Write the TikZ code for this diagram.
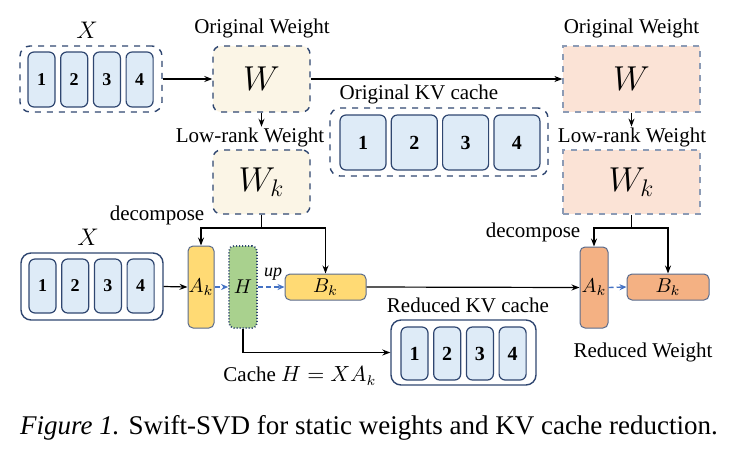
\documentclass[tikz,border=0pt]{standalone}
\usepackage{fontspec}
\setmainfont{Liberation Serif}
\usetikzlibrary{arrows.meta}
\definecolor{navy}{HTML}{2F4670}
\definecolor{cellblue}{HTML}{DEEBF7}
\definecolor{cream}{HTML}{FBF5E6}
\definecolor{peach}{HTML}{FBE3D6}
\definecolor{peachline}{HTML}{8C9BB5}
\definecolor{ayellow}{HTML}{FFDA74}
\definecolor{agreen}{HTML}{A9D18E}
\definecolor{aorange}{HTML}{F4B183}
\definecolor{upblue}{HTML}{4472C4}
\newcommand\lblfont{\fontsize{10.5}{12}\selectfont}
\tikzset{
  arr/.style={-{Stealth[length=4pt,width=3pt]}, line width=0.6pt},
  uparr/.style={-{Stealth[length=3.5pt,width=3pt]}, upblue, dashed, line width=0.7pt, dash pattern=on 2.5pt off 1.5pt},
  cell/.style={draw=navy, fill=cellblue, rounded corners=3pt, line width=0.6pt, inner sep=0pt, font=\bfseries\fontsize{9}{10}\selectfont},
  group/.style={draw=navy, rounded corners=5pt, line width=0.7pt, inner sep=0pt},
  wbox/.style={draw=navy, dashed, fill=cream, rounded corners=4pt, line width=0.7pt, inner sep=0pt, font=\LARGE},
  wbox2/.style={draw=peachline, dashed, fill=peach, line width=0.6pt, inner sep=0pt, font=\LARGE},
  fac/.style={draw=navy!80, rounded corners=2.5pt, line width=0.5pt, inner sep=0pt},
  lbl/.style={font=\lblfont, inner sep=1pt},
}
\begin{document}
\begin{tikzpicture}[x=0.5pt,y=-0.5pt]
    \useasboundingbox (0,0) rectangle (732,456);
    % input X and original weights
    \node[group, dashed, minimum width=71pt, minimum height=33pt] (xtop) at (91,79) {};
    \foreach \i in {1,...,4}
        \node[cell, minimum width=13.5pt, minimum height=27.5pt] (xt\i) at ({41.5+32.7*(\i-1)},79.5) {\i};
    \node[lbl, font=\large] (xtoplbl) at (87,30) {$X$};
    \node[wbox, minimum width=48.5pt, minimum height=33pt] (wl) at (261.5,79) {$W$};
    \node[lbl] (owl) at (262,28) {Original Weight};
    \node[wbox, minimum width=48.5pt, minimum height=32pt] (wkl) at (261.5,182) {$W_k$};
    \node[lbl] (lrl) at (250,137) {Low-rank Weight};
    \node[wbox2, minimum width=68.5pt, minimum height=33pt] (wr) at (631.5,79) {$W$};
    \node[lbl] (owr) at (631.5,28) {Original Weight};
    \node[wbox2, minimum width=68.5pt, minimum height=32pt] (wkr) at (631.5,182) {$W_k$};
    \node[lbl] (lrr) at (632,137) {Low-rank Weight};
    % original KV cache
    \node[group, dashed, minimum width=109pt, minimum height=34pt] (kvo) at (439,142) {};
    \foreach \i in {1,...,4}
        \node[cell, minimum width=23pt, minimum height=27.5pt, font=\bfseries\fontsize{10}{11}\selectfont] (kvo\i) at ({363+51.3*(\i-1)},142.5) {\i};
    \node[lbl] (kvolbl) at (419,94) {Original KV cache};
    % decomposed path
    \node[group, minimum width=71pt, minimum height=33.5pt] (xbot) at (92,286.5) {};
    \foreach \i in {1,...,4}
        \node[cell, minimum width=13.5pt, minimum height=27pt] (xb\i) at ({42.5+32.7*(\i-1)},286) {\i};
    \node[lbl, font=\large] (xbotlbl) at (88,237) {$X$};
    \node[fac, fill=ayellow, minimum width=13pt, minimum height=41pt] (akl) at (201,287) {$A_k$};
    \node[fac, fill=agreen, draw=navy, densely dotted, line width=0.9pt, minimum width=14pt, minimum height=41pt] (hl) at (243,287) {$H$};
    \node[fac, fill=ayellow, minimum width=40.5pt, minimum height=13pt] (bkl) at (325.5,287) {$B_k$};
    \node[lbl] (decl) at (157,215) {decompose};
    \node[fac, fill=aorange, minimum width=14pt, minimum height=40.5pt] (akr) at (594,287.5) {$A_k$};
    \node[fac, fill=aorange, minimum width=41pt, minimum height=13pt] (bkr) at (668,287) {$B_k$};
    \node[lbl] (decr) at (533,232) {decompose};
    \node[lbl] (rwlbl) at (643,352) {Reduced Weight};
    % reduced KV cache
    \node[group, minimum width=72.5pt, minimum height=32.5pt] (kvr) at (463.5,352.5) {};
    \foreach \i in {1,...,4}
        \node[cell, minimum width=13.5pt, minimum height=26.5pt, font=\bfseries\fontsize{10}{11}\selectfont] (kvr\i) at ({414.5+32.7*(\i-1)},353.5) {\i};
    \node[lbl] (kvrlbl) at (468,305) {Reduced KV cache};
    \node[lbl] (cachelbl) at (300,376) {Cache $H = XA_k$};
    % connectors
    \draw[arr] (xtop.east) -- (wl.west);
    \draw[arr] (wl.east) -- (wr.west);
    \draw[arr] (wl.south) -- ++(0,14);
    \draw[arr] (wr.south) -- ++(0,14);
    \coordinate (dl) at (wkl.south |- 0,228);
    \coordinate (dr) at (wkr.south |- 0,228);
    \draw[line width=0.6pt] (wkl.south) -- (dl);
    \draw[arr] (dl) -| (akl.north);
    \draw[arr] (dl) -| (bkl.north);
    \draw[line width=0.6pt] (wkr.south) -- (dr);
    \draw[arr] (dr) -| (akr.north);
    \draw[arr] (dr) -| (bkr.north);
    \draw[arr] (xbot.east) -- (akl.west);
    \draw[uparr] (akl.east) -- (hl.west);
    \draw[uparr] (hl.east) -- node[above, text=black, font=\small\itshape, inner sep=3pt, xshift=1pt] {up} (bkl.west);
    \draw[arr] (bkl.east) -- (akr.west);
    \draw[uparr] (akr.east) -- (bkr.west);
    \draw[arr] (hl.south) |- (kvr.west);
    % caption
    \node[font=\fontsize{13.5}{15}\selectfont] (caption) at (369,428) {\textit{Figure 1.} Swift-SVD for static weights and KV cache reduction.};
\end{tikzpicture}
\end{document}
